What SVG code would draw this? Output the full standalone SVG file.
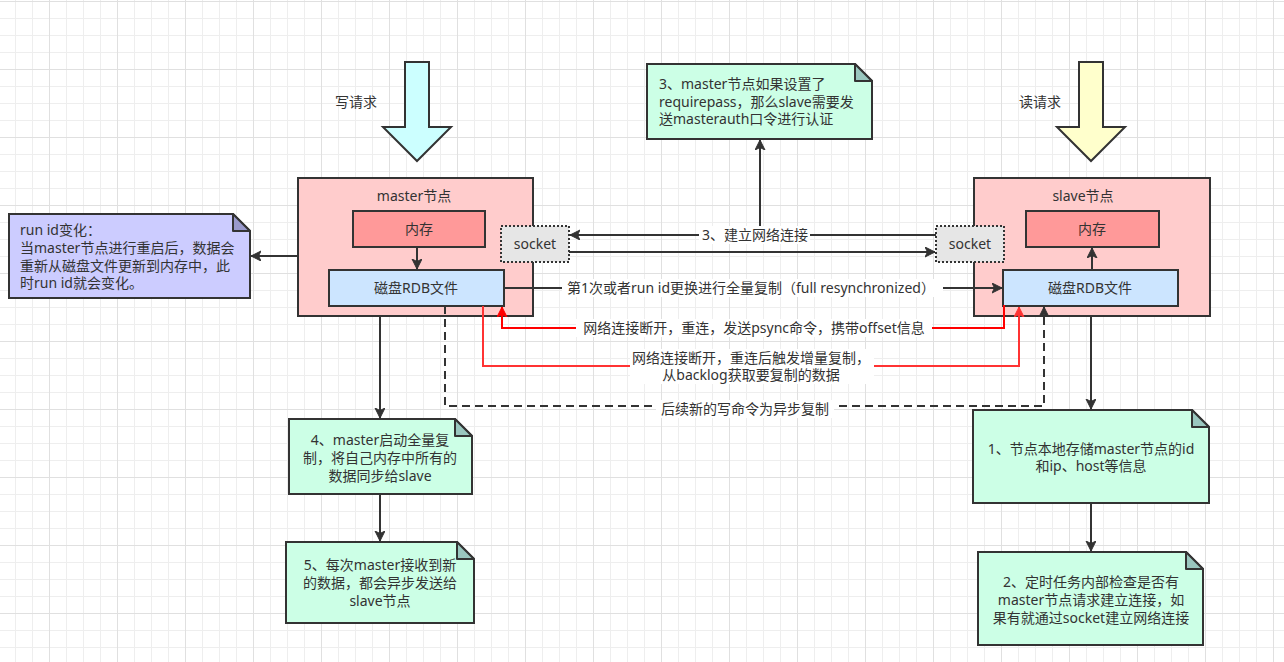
<svg xmlns="http://www.w3.org/2000/svg" width="1284" height="662" viewBox="0 0 1284 662">
<style>
.t{font-family:"Noto Sans","Noto Sans CJK SC",sans-serif;font-size:14px;fill:#333;}
.m{text-anchor:middle;}
.box{stroke:#333;stroke-width:2;}
.ln{fill:none;stroke:#333;stroke-width:2;}
.red{fill:none;stroke:#FF0000;stroke-width:2;}
.red2{fill:none;stroke:#FF3333;stroke-width:2;}
.lbl{fill:#fff;}
.note{fill:#CCFFE6;stroke:#333;stroke-width:2;}
.fold{fill:#9AC7BF;stroke:#333;stroke-width:2;stroke-linejoin:round;}
</style>
<defs>
<pattern id="grid" x="-19" y="1" width="68" height="68" patternUnits="userSpaceOnUse">
<rect x="17" y="0" width="1" height="68" fill="#eeeeee"/>
<rect x="34" y="0" width="1" height="68" fill="#eeeeee"/>
<rect x="51" y="0" width="1" height="68" fill="#eeeeee"/>
<rect x="0" y="17" width="68" height="1" fill="#eeeeee"/>
<rect x="0" y="34" width="68" height="1" fill="#eeeeee"/>
<rect x="0" y="51" width="68" height="1" fill="#eeeeee"/>
<rect x="0" y="0" width="1" height="68" fill="#e0e0e0"/>
<rect x="0" y="0" width="68" height="1" fill="#e0e0e0"/>
</pattern>
<marker id="arr" markerUnits="userSpaceOnUse" markerWidth="12" markerHeight="12" refX="10" refY="5" orient="auto">
<path d="M0,0 L10,5 L0,10 L2.5,5 Z" fill="#333" stroke="#333" stroke-width="1"/>
</marker>
<marker id="arrR" markerUnits="userSpaceOnUse" markerWidth="12" markerHeight="12" refX="10" refY="5" orient="auto">
<path d="M0,0 L10,5 L0,10 L2.5,5 Z" fill="#FF0000" stroke="#FF0000" stroke-width="1"/>
</marker>
<marker id="arrR2" markerUnits="userSpaceOnUse" markerWidth="12" markerHeight="12" refX="10" refY="5" orient="auto">
<path d="M0,0 L10,5 L0,10 L2.5,5 Z" fill="#FF3333" stroke="#FF3333" stroke-width="1"/>
</marker>
</defs>
<rect width="1284" height="662" fill="#fff"/>
<rect width="1284" height="662" fill="url(#grid)"/>

<g id="write-request">
<path d="M405,62 H429 V127 H451 L417,161 L383,127 H405 Z" fill="#CCFFFF" class="box"/>
<text class="t m" x="356" y="107">写请求</text>
</g>
<g id="read-request">
<path d="M1079,62 H1103 V127 H1125 L1091,161 L1057,127 H1079 Z" fill="#FFFFCC" class="box"/>
<text class="t m" x="1040" y="107">读请求</text>
</g>

<g id="master">
<rect x="298" y="178" width="235" height="138" fill="#FFCCCC" class="box"/>
<text class="t m" x="414" y="201">master节点</text>
</g>
<g id="master-mem">
<rect x="353" y="211" width="132" height="36" fill="#FF9999" class="box"/>
<text class="t m" x="419" y="234">内存</text>
</g>
<g id="master-rdb">
<rect x="329" y="270" width="175" height="36" fill="#CCE5FF" class="box"/>
<text class="t m" x="416" y="293">磁盘RDB文件</text>
</g>

<g id="slave">
<rect x="974" y="178" width="236" height="138" fill="#FFCCCC" class="box"/>
<text class="t m" x="1083" y="201">slave节点</text>
</g>
<g id="slave-mem">
<rect x="1026" y="211" width="133" height="36" fill="#FF9999" class="box"/>
<text class="t m" x="1092" y="234">内存</text>
</g>
<g id="slave-rdb">
<rect x="1003" y="270" width="175" height="36" fill="#CCE5FF" class="box"/>
<text class="t m" x="1090" y="293">磁盘RDB文件</text>
</g>

<g id="socket-left">
<rect x="501" y="226" width="68" height="36" fill="#E6E6E6" stroke="#333" stroke-width="2" stroke-dasharray="2 2"/>
<text class="t m" x="535" y="249">socket</text>
</g>
<g id="socket-right">
<rect x="936" y="226" width="68" height="36" fill="#E6E6E6" stroke="#333" stroke-width="2" stroke-dasharray="2 2"/>
<text class="t m" x="970" y="249">socket</text>
</g>

<g id="note-runid">
<path d="M9,214 H233 L250,231 V298 H9 Z" fill="#CCCCFF" stroke="#333" stroke-width="2"/>
<path d="M233,214 V231 H250 Z" fill="#9999CC" stroke="#333" stroke-width="2" stroke-linejoin="round"/>
<text class="t" x="20" y="235">run id变化：</text>
<text class="t" x="20" y="253">当master节点进行重启后，数据会</text>
<text class="t" x="20" y="271">重新从磁盘文件更新到内存中，此</text>
<text class="t" x="20" y="288">时run id就会变化。</text>
</g>

<g id="note-auth">
<path d="M647,64 H855 L872,81 V139 H647 Z" class="note"/>
<path d="M855,64 V81 H872 Z" class="fold"/>
<text class="t" x="659" y="89">3、master节点如果设置了</text>
<text class="t" x="659" y="107">requirepass，那么slave需要发</text>
<text class="t" x="659" y="124">送masterauth口令进行认证</text>
</g>

<g id="note-4">
<path d="M289,419 H455 L472,436 V494 H289 Z" class="note"/>
<path d="M455,419 V436 H472 Z" class="fold"/>
<text class="t m" x="380" y="445">4、master启动全量复</text>
<text class="t m" x="380" y="463">制，将自己内存中所有的</text>
<text class="t m" x="380" y="481">数据同步给slave</text>
</g>

<g id="note-5">
<path d="M286,542 H457 L474,559 V623 H286 Z" class="note"/>
<path d="M457,542 V559 H474 Z" class="fold"/>
<text class="t m" x="380" y="570">5、每次master接收到新</text>
<text class="t m" x="380" y="588">的数据，都会异步发送给</text>
<text class="t m" x="380" y="606">slave节点</text>
</g>

<g id="note-1">
<path d="M973,410 H1192 L1209,427 V503 H973 Z" class="note"/>
<path d="M1192,410 V427 H1209 Z" class="fold"/>
<text class="t m" x="1091" y="454">1、节点本地存储master节点的id</text>
<text class="t m" x="1091" y="471">和ip、host等信息</text>
</g>

<g id="note-2">
<path d="M978,552 H1186 L1203,569 V645 H978 Z" class="note"/>
<path d="M1186,552 V569 H1203 Z" class="fold"/>
<text class="t m" x="1091" y="587">2、定时任务内部检查是否有</text>
<text class="t m" x="1091" y="605">master节点请求建立连接，如</text>
<text class="t m" x="1091" y="623">果有就通过socket建立网络连接</text>
</g>

<g id="connectors">
<path class="ln" d="M417,247 V269" marker-end="url(#arr)"/>
<path class="ln" d="M1092,270 V248" marker-end="url(#arr)"/>
<path class="ln" d="M298,256 H251" marker-end="url(#arr)"/>
<path class="ln" d="M760,235 V140" marker-end="url(#arr)"/>
<path class="ln" d="M936,235 H570" marker-end="url(#arr)"/>
<rect class="lbl" x="699" y="226" width="111" height="18"/>
<text class="t m" x="755" y="240">3、建立网络连接</text>
<path class="ln" d="M569,252 H935" marker-end="url(#arr)"/>
<path class="ln" d="M504,288 H1002" marker-end="url(#arr)"/>
<rect class="lbl" x="562" y="279" width="381" height="18"/>
<text class="t m" x="751" y="293">第1次或者run id更换进行全量复制（full resynchronized）</text>
<path class="red" d="M1004,305 V328 H502 V307" marker-end="url(#arrR)"/>
<rect class="lbl" x="576" y="319" width="356" height="18"/>
<text class="t m" x="754" y="333">网络连接断开，重连，发送psync命令，携带offset信息</text>
<path class="red2" d="M483,306 V366 H1019 V307" marker-end="url(#arrR2)"/>
<rect class="lbl" x="630" y="349" width="244" height="35"/>
<text class="t m" x="751" y="363">网络连接断开，重连后触发增量复制，</text>
<text class="t m" x="751" y="380">从backlog获取要复制的数据</text>
<path class="ln" d="M445,306 V406 H1044 V307" stroke-dasharray="8 5" marker-end="url(#arr)"/>
<rect class="lbl" x="656" y="400" width="178" height="18"/>
<text class="t m" x="745" y="414">后续新的写命令为异步复制</text>
<path class="ln" d="M380,317 V418" marker-end="url(#arr)"/>
<path class="ln" d="M380,494 V541" marker-end="url(#arr)"/>
<path class="ln" d="M1091,317 V409" marker-end="url(#arr)"/>
<path class="ln" d="M1091,503 V551" marker-end="url(#arr)"/>
</g>
</svg>
